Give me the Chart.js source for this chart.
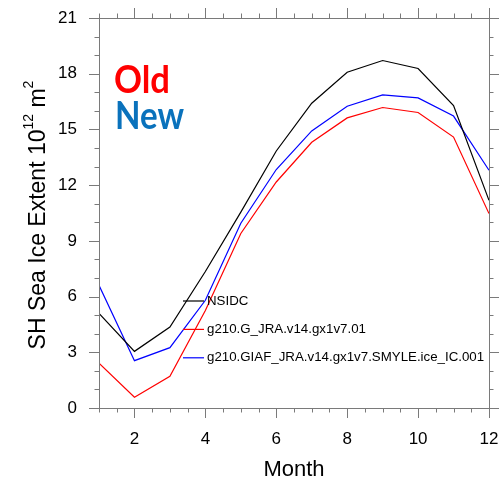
<!DOCTYPE html>
<html><head><meta charset="utf-8">
<script src="https://cdn.jsdelivr.net/npm/chart.js@4/dist/chart.umd.min.js"></script>
<style>html,body{margin:0;padding:0;background:#fff}#wrap{width:502px;height:479px}</style>
</head><body><div id="wrap"><canvas id="c" width="502" height="479"></canvas></div>
<script>
const months = [1,2,3,4,5,6,7,8,9,10,11,12];
const nsidc  = [5.10, 3.05, 4.36, 7.35, 10.55, 13.84, 16.41, 18.08, 18.71, 18.28, 16.28, 11.18];
const oldRun = [2.41, 0.58, 1.71, 5.25, 9.40, 12.17, 14.31, 15.62, 16.18, 15.91, 14.59, 10.47];
const newRun = [6.61, 2.55, 3.25, 5.80, 9.95, 12.84, 14.92, 16.25, 16.86, 16.70, 15.72, 12.80];
const seriesLabels = ['NSIDC', 'g210.G_JRA.v14.gx1v7.01', 'g210.GIAF_JRA.v14.gx1v7.SMYLE.ice_IC.001'];
const xTickValues = [2,4,6,8,10,12];
const yTickValues = [0,3,6,9,12,15,18,21];
const xMinorStep = 0.5;
const yMinorStep = 1;
const xTitle = 'Month';
const yTitleParts = ['SH Sea Ice Extent 10', '12', ' m', '2'];
const annotations = ['Old', 'New'];

const axisColor = '#7a7a7a';
const FONT = '"Liberation Sans", Arial, sans-serif';

const framePlugin = {
  id: 'frame',
  afterDraw(chart) {
    const {ctx, chartArea: a, scales} = chart;
    const xs = scales.x, ys = scales.y;
    ctx.save();
    ctx.strokeStyle = axisColor;
    ctx.lineWidth = 1;
    ctx.strokeRect(Math.round(a.left) + 0.5, Math.round(a.top) + 0.5, Math.round(a.right - a.left), Math.round(a.bottom - a.top));
    ctx.beginPath();
    for (let v = xs.min; v <= xs.max + 1e-9; v += xMinorStep) {
      const major = xTickValues.some(t => Math.abs(t - v) < 1e-6);
      const len = major ? 10 : 4.5;
      const px = Math.round(xs.getPixelForValue(v)) + 0.5;
      ctx.moveTo(px, a.bottom); ctx.lineTo(px, a.bottom + len);
      ctx.moveTo(px, a.top); ctx.lineTo(px, a.top - len);
    }
    for (let v = ys.min; v <= ys.max + 1e-9; v += yMinorStep) {
      const major = yTickValues.some(t => Math.abs(t - v) < 1e-6);
      const len = major ? 10 : 4.5;
      const py = Math.round(ys.getPixelForValue(v)) + 0.5;
      ctx.moveTo(a.left, py); ctx.lineTo(a.left - len, py);
      ctx.moveTo(a.right, py); ctx.lineTo(a.right + len, py);
    }
    ctx.stroke();

    ctx.fillStyle = '#000';
    ctx.font = '22px ' + FONT;
    ctx.textAlign = 'center';
    ctx.textBaseline = 'alphabetic';
    ctx.fillText(xTitle, (a.left + a.right) / 2, 476);

    ctx.save();
    ctx.translate(45, (a.top + a.bottom) / 2 + 2);
    ctx.rotate(-Math.PI / 2);
    ctx.textAlign = 'left';
    const big = '23px ' + FONT;
    const small = '14px ' + FONT;
    const fonts = [big, small, big, small];
    const offs = [0, -12, 0, -12];
    let total = 0;
    const widths = yTitleParts.map((t, i) => { ctx.font = fonts[i]; const w = ctx.measureText(t).width; total += w; return w; });
    let x = -total / 2;
    yTitleParts.forEach((t, i) => { ctx.font = fonts[i]; ctx.fillText(t, x, offs[i]); x += widths[i]; });
    ctx.restore();

    ctx.textAlign = 'left';
    ctx.font = '700 38px Lato, "DejaVu Sans", sans-serif';
    ctx.fillStyle = '#ff0000';
    ctx.fillText(annotations[0], 114, 93, 56);
    ctx.fillStyle = '#0a72bc';
    ctx.fillText(annotations[1], 115, 129, 69);

    ctx.font = '13.3px ' + FONT;
    ctx.textBaseline = 'middle';
    chart.data.datasets.forEach((ds, i) => {
      const y = 301 + i * 28.4;
      ctx.strokeStyle = ds.borderColor;
      ctx.lineWidth = 1.2;
      ctx.beginPath();
      ctx.moveTo(183, y); ctx.lineTo(204, y);
      ctx.stroke();
      ctx.fillStyle = '#000';
      ctx.fillText(ds.label, 207, y);
    });
    ctx.restore();
  }
};

const mk = (label, data, color) => ({
  label, data: months.map((m, i) => ({x: m, y: data[i]})),
  borderColor: color, backgroundColor: color, borderWidth: 1.2,
  pointRadius: 0, tension: 0, fill: false
});

new Chart(document.getElementById('c'), {
  type: 'line',
  data: {
    datasets: [
      mk(seriesLabels[0], nsidc, '#000000'),
      mk(seriesLabels[1], oldRun, '#ff0000'),
      mk(seriesLabels[2], newRun, '#0000ff')
    ]
  },
  options: {
    responsive: false,
    animation: false,
    layout: {autoPadding: false, padding: {top: 18, right: 13, left: 0, bottom: 0}},
    plugins: {legend: {display: false}, tooltip: {enabled: false}},
    scales: {
      x: {
        type: 'linear', min: 1, max: 12,
        afterBuildTicks: s => { s.ticks = xTickValues.map(v => ({value: v})); },
        afterFit: s => { s.height = 71; s.paddingLeft = 0; s.paddingRight = 0; s.paddingTop = 0; s.paddingBottom = 0; },
        grid: {display: false, drawTicks: false},
        border: {display: false},
        ticks: {color: '#000', font: {size: 17, family: FONT}, padding: 21, maxRotation: 0, autoSkip: false}
      },
      y: {
        type: 'linear', min: 0, max: 21,
        afterBuildTicks: s => { s.ticks = yTickValues.map(v => ({value: v})); },
        afterFit: s => { s.width = 99; s.paddingLeft = 0; s.paddingRight = 0; s.paddingTop = 0; s.paddingBottom = 0; },
        grid: {display: false, drawTicks: false},
        border: {display: false},
        ticks: {color: '#000', font: {size: 17, family: FONT}, padding: 22, autoSkip: false}
      }
    }
  },
  plugins: [framePlugin]
});
</script>
</body></html>
